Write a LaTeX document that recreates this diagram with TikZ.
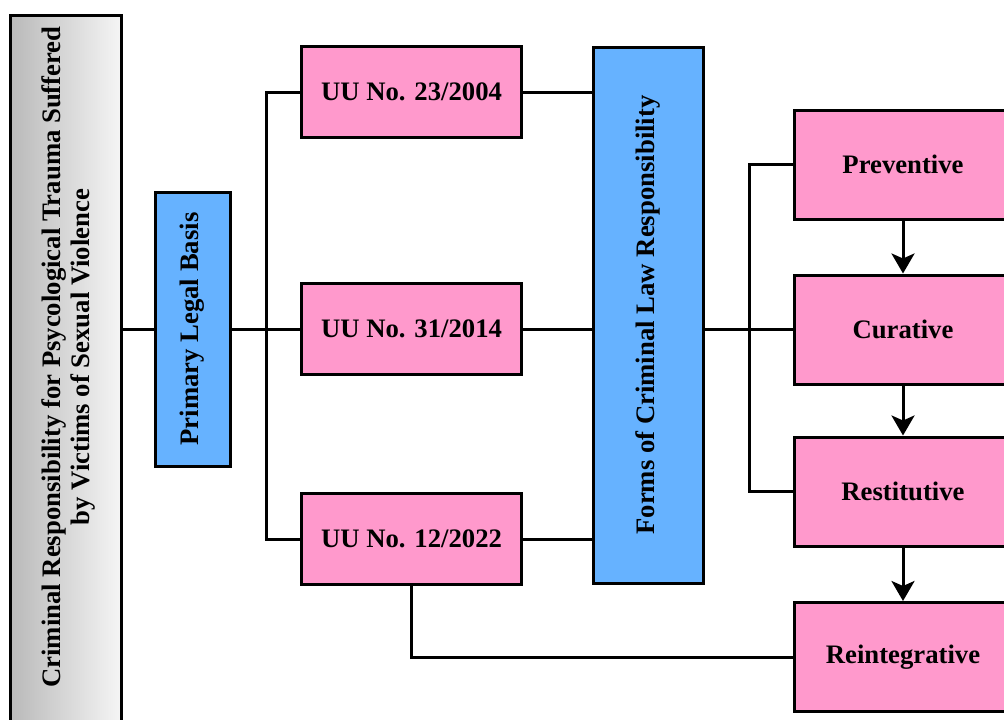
\documentclass[tikz,border=0pt]{standalone}
\usepackage{fontspec}
\setmainfont{Liberation Serif}
\usetikzlibrary{arrows.meta}
\definecolor{pinkbox}{RGB}{255,153,204}
\definecolor{bluebox}{RGB}{102,178,255}
\definecolor{greyL}{RGB}{185,185,185}
\definecolor{greyR}{RGB}{245,245,245}
\tikzset{
  base/.style={draw=black, line width=3pt, inner sep=0pt, font=\bfseries\fontsize{26.7}{29}\selectfont},
  pinkb/.style={base, fill=pinkbox},
  blueb/.style={base, fill=bluebox},
  conn/.style={line width=3pt, line cap=rect},
  arr/.style={line width=3pt, -{Stealth[length=20pt,width=23pt,inset=5pt]}},
}
\begin{document}
\begin{tikzpicture}[x=1pt,y=-1pt]
\useasboundingbox (0,0) rectangle (1004,720);
\clip (0,0) rectangle (1004,720);
% title box
\node[base, left color=greyL, right color=greyR, minimum width=111pt, minimum height=740pt] (title) at (65.5,385) {};
\node[font=\bfseries\fontsize{26.7}{29}\selectfont, rotate=90, align=center] (titletext) at (68.5,357)
  {Criminal Responsibility for Psycological Trauma Suffered\\by Victims of Sexual Violence};
% primary legal basis
\node[blueb, minimum width=75pt, minimum height=274pt] (plb) at (192.5,329) {};
\node[font=\bfseries\fontsize{26.7}{29}\selectfont, rotate=90] (plbtext) at (192.5,329) {Primary Legal Basis};
% UU boxes
\node[pinkb, minimum width=220pt, minimum height=91pt] (uu1) at (411.5,92) {UU No. 23/2004};
\node[pinkb, minimum width=220pt, minimum height=91pt] (uu2) at (411.5,329) {UU No. 31/2014};
\node[pinkb, minimum width=220pt, minimum height=91pt] (uu3) at (411.5,539) {UU No. 12/2022};
% forms
\node[blueb, minimum width=110pt, minimum height=536pt] (forms) at (648,315) {};
\node[font=\bfseries\fontsize{26.7}{29}\selectfont, rotate=90] (formstext) at (648,315) {Forms of Criminal Law Responsibility};
% right boxes
\node[pinkb, minimum width=218pt, minimum height=109pt] (prev) at (903,164.5) {Preventive};
\node[pinkb, minimum width=218pt, minimum height=109pt] (cur) at (903,329.5) {Curative};
\node[pinkb, minimum width=218pt, minimum height=109pt] (rest) at (903,491.5) {Restitutive};
\node[pinkb, minimum width=218pt, minimum height=109pt] (reint) at (903,657) {Reintegrative};
\coordinate (bus) at (266,329);
\coordinate (bus2) at (749,329);
% connectors
\draw[conn] (plb.west -| title.east) -- (plb.west);
\draw[conn] (plb.east) -- (uu2.west);
\draw[conn] (uu1.west) -| (bus) |- (uu3.west);
\draw[conn] (uu1.east) -- (uu1.east -| forms.west);
\draw[conn] (uu2.east) -- (uu2.east -| forms.west);
\draw[conn] (uu3.east) -- (uu3.east -| forms.west);
\draw[conn] (cur.west -| forms.east) -- (cur.west);
\draw[conn] (prev.west) -| (bus2) |- (rest.west);
\draw[conn] (uu3.south) |- (reint.west);
\draw[arr] (prev.south) -- (cur.north);
\draw[arr] (cur.south) -- (rest.north);
\draw[arr] (rest.south) -- (reint.north);
\end{tikzpicture}
\end{document}
